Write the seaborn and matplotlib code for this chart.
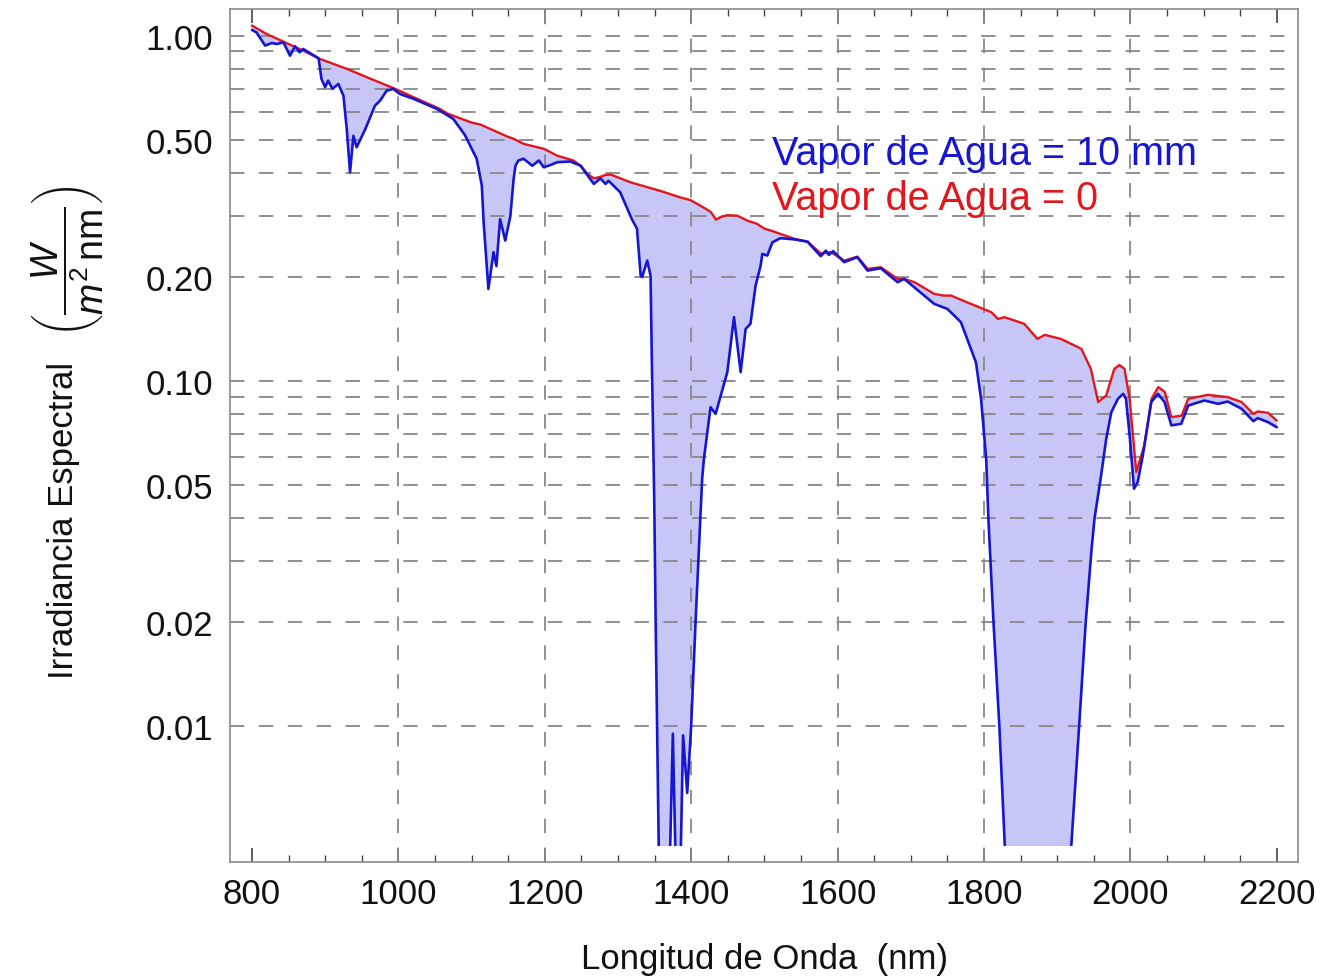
import numpy as np
import matplotlib
matplotlib.use("Agg")
import matplotlib.pyplot as plt
from matplotlib.patches import Rectangle
from matplotlib.ticker import FixedLocator, MultipleLocator, NullLocator
import seaborn as sns

# Spectral irradiance with no water vapour (wavelength in nm, W / (m^2 nm))
wl_dry = [800, 820, 843, 870, 893, 930, 957, 998, 1021, 1057, 1066, 1100, 1112,
          1148, 1158, 1171, 1199, 1217, 1239, 1249, 1258, 1267, 1276, 1283, 1290,
          1317, 1358, 1385, 1399, 1420, 1427, 1434, 1440, 1449, 1463, 1477, 1490,
          1500, 1510, 1525, 1541, 1559, 1577, 1591, 1609, 1627, 1641, 1659, 1682,
          1691, 1705, 1732, 1745, 1755, 1782, 1810, 1819, 1828, 1855, 1873, 1883,
          1905, 1933, 1946, 1956, 1967, 1978, 1985, 1992, 1999, 2008, 2019, 2029,
          2038, 2047, 2056, 2070, 2079, 2106, 2133, 2152, 2168, 2174, 2188, 2200]
irr_dry = [1.07, 1.011, 0.961, 0.905, 0.856, 0.801, 0.758, 0.698, 0.663, 0.613,
           0.596, 0.560, 0.553, 0.511, 0.502, 0.486, 0.470, 0.449, 0.435, 0.420,
           0.398, 0.386, 0.390, 0.395, 0.396, 0.376, 0.355, 0.340, 0.334, 0.315,
           0.308, 0.293, 0.298, 0.302, 0.301, 0.291, 0.285, 0.276, 0.272, 0.265,
           0.258, 0.253, 0.234, 0.236, 0.223, 0.229, 0.211, 0.2134, 0.1974, 0.1974,
           0.1931, 0.1786, 0.1766, 0.1766, 0.1671, 0.1581, 0.1512, 0.1529, 0.1463,
           0.1323, 0.1359, 0.1323, 0.1238, 0.1083, 0.0868, 0.0907, 0.1083, 0.1111,
           0.1083, 0.0887, 0.0544, 0.0650, 0.0887, 0.0959, 0.0929, 0.0785, 0.0793,
           0.0887, 0.0911, 0.0897, 0.0868, 0.0802, 0.0815, 0.0808, 0.0767]

# Spectral irradiance with 10 mm of precipitable water
wl_wet = [800, 806, 818, 827, 834, 843, 852, 859, 865, 870, 891, 895, 900, 904,
          910, 918, 925, 929.5, 934, 938.6, 943, 955, 968, 975, 984, 993, 1002,
          1021, 1053, 1075, 1091, 1107, 1114, 1116.5, 1123, 1130, 1134, 1139, 1146,
          1153, 1157.5, 1160, 1164, 1171, 1183, 1192, 1198.5, 1208, 1217, 1235,
          1249, 1267, 1276, 1283, 1287, 1303, 1319, 1326, 1331, 1333, 1340, 1344.5,
          1346.7, 1349.5, 1351.5, 1353.5, 1356, 1362, 1370.8, 1375, 1378.8, 1382,
          1385.5, 1389, 1394.6, 1400, 1406, 1415, 1417.4, 1426.5, 1433.4, 1449.4,
          1458.5, 1467.6, 1474.4, 1481, 1488, 1494.9, 1497.2, 1504, 1511, 1522,
          1540.5, 1559, 1577, 1584, 1588, 1594, 1609, 1627, 1641, 1659, 1682, 1691,
          1732, 1750, 1768.5, 1789, 1796, 1803, 1806, 1813, 1821, 1830, 1875, 1917,
          1930, 1939, 1947, 1951, 1960, 1967, 1974, 1983, 1990, 1994, 1999, 2005,
          2010, 2017, 2028.5, 2037.6, 2046.7, 2056, 2069.5, 2079, 2101, 2120, 2133,
          2152, 2168, 2174, 2188, 2200]
irr_wet = [1.039, 1.023, 0.936, 0.952, 0.946, 0.957, 0.875, 0.932, 0.895, 0.915,
           0.860, 0.749, 0.709, 0.741, 0.701, 0.725, 0.670, 0.537, 0.402, 0.513,
           0.475, 0.537, 0.627, 0.648, 0.693, 0.701, 0.678, 0.656, 0.613, 0.574,
           0.515, 0.440, 0.368, 0.288, 0.1846, 0.236, 0.215, 0.294, 0.255, 0.300,
           0.385, 0.420, 0.435, 0.440, 0.420, 0.435, 0.416, 0.422, 0.430, 0.432,
           0.420, 0.372, 0.386, 0.372, 0.380, 0.352, 0.294, 0.276, 0.2018, 0.1997,
           0.2231, 0.2018, 0.101, 0.046, 0.020, 0.010, 0.0040, 0.0010, 0.0040,
           0.0095, 0.0040, 0.0020, 0.0040, 0.0094, 0.0064, 0.010, 0.020, 0.052,
           0.0594, 0.0839, 0.0802, 0.106, 0.1529, 0.106, 0.1414, 0.1463, 0.1888,
           0.2157, 0.2332, 0.2306, 0.252, 0.259, 0.257, 0.253, 0.2297, 0.2384,
           0.2317, 0.2375, 0.2207, 0.2282, 0.2087, 0.2120, 0.1931, 0.1974, 0.1671,
           0.1616, 0.1479, 0.1132, 0.0887, 0.0594, 0.040, 0.020, 0.010, 0.0038,
           0.0015, 0.0038, 0.010, 0.020, 0.0326, 0.0399, 0.0532, 0.0679, 0.0812,
           0.0887, 0.0917, 0.0887, 0.0694, 0.0487, 0.0509, 0.0608, 0.0868, 0.0917,
           0.0868, 0.0743, 0.0751, 0.0848, 0.0877, 0.0858, 0.0871, 0.0830, 0.0764,
           0.0780, 0.0759, 0.0734]

x_ticks = [800, 1000, 1200, 1400, 1600, 1800, 2000, 2200]
y_ticks = [1.0, 0.5, 0.2, 0.1, 0.05, 0.02, 0.01]
y_tick_labels = ["1.00", "0.50", "0.20", "0.10", "0.05", "0.02", "0.01"]
h_grid = [1.0, 0.9, 0.8, 0.7, 0.6, 0.5, 0.4, 0.3, 0.2,
          0.1, 0.09, 0.08, 0.07, 0.06, 0.05, 0.04, 0.03, 0.02, 0.01]
v_grid = [1000, 1200, 1400, 1600, 1800, 2000]
series_labels = ["Vapor de Agua = 10 mm", "Vapor de Agua = 0"]
y_title = "Irradiancia Espectral"
y_units = r"$\left(\dfrac{W}{m^2\,\mathrm{nm}}\right)$"
x_title = "Longitud de Onda  (nm)"

BLUE = "#1616d2"
RED = "#e3161c"
FILL = "#c6c7f6"
GRID = "#888888"

sns.set_theme(style="white")
plt.rcParams["font.family"] = ["Liberation Sans", "DejaVu Sans"]
plt.rcParams["mathtext.fontset"] = "custom"
plt.rcParams["mathtext.rm"] = "Liberation Sans"
plt.rcParams["mathtext.it"] = "Liberation Sans:italic"
plt.rcParams["mathtext.bf"] = "Liberation Sans:bold"
for key in ("text.color", "axes.labelcolor", "xtick.color", "ytick.color"):
    plt.rcParams[key] = "#111111"

fig = plt.figure(figsize=(13.21, 9.78), dpi=100)
ax = fig.add_axes([0.1741, 0.1176, 0.8085, 0.8722])
ax.set_yscale("log")
ax.set_xlim(770, 2229)
ax.set_ylim(0.004037, 1.195)

# lower edge of the plotted range; curves and filling are cut there
floor = 0.0045
clip_rect = Rectangle((700, floor), 1700, 10, transform=ax.transData)

# shaded absorption between the two spectra
poly_x = np.r_[wl_dry, wl_wet[::-1]]
poly_y = np.r_[irr_dry, irr_wet[::-1]]
filled = ax.fill(poly_x, poly_y, color=FILL, lw=0, zorder=1)
for p in filled:
    p.set_clip_path(clip_rect)

for v in h_grid:
    ax.axhline(v, color=GRID, lw=1.3, ls=(0, (8, 8)), zorder=2)
for v in v_grid:
    ax.axvline(v, color=GRID, lw=1.3, ls=(0, (8, 8)), zorder=2)

sns.lineplot(x=wl_dry, y=irr_dry, color=RED, lw=1.7, estimator=None,
             sort=False, ax=ax, zorder=3)
sns.lineplot(x=wl_wet, y=irr_wet, color=BLUE, lw=1.9, estimator=None,
             sort=False, ax=ax, zorder=4)
for line in ax.lines[-2:]:
    line.set_clip_path(clip_rect)

# ticks
ax.xaxis.set_major_locator(FixedLocator(x_ticks))
ax.xaxis.set_minor_locator(MultipleLocator(50))
ax.tick_params(axis="x", which="major", direction="in", length=10, width=1.1,
               top=True, bottom=True, labelsize=25, pad=11, color="#333333")
ax.tick_params(axis="x", which="minor", direction="in", length=5, width=1.0,
               top=True, bottom=True, color="#444444")
ax.yaxis.set_major_locator(FixedLocator(y_ticks))
ax.yaxis.set_minor_locator(NullLocator())
ax.set_yticklabels(y_tick_labels)
ax.tick_params(axis="y", which="major", length=0, labelsize=25, pad=12)

for s in ax.spines.values():
    s.set_color("#8a8a8a")
    s.set_linewidth(1.2)

ax.set_xlabel(x_title, fontsize=25)
ax.xaxis.set_label_coords(0.5, -0.094)

# y title and its units, stacked along the left side
ax.set_ylabel(y_title, fontsize=25)
ylab = ax.yaxis.label
ylab.set_rotation_mode("default")
ylab.set_verticalalignment("center")
ylab.set_horizontalalignment("center")
ax.yaxis.set_label_coords(-0.1559, 0.402)
ax.text(-0.1515, 0.705, y_units, transform=ax.transAxes, rotation=90,
        fontsize=27, ha="center", va="center", color="#111111")

ax.text(0.5075, 0.818, series_labels[0], transform=ax.transAxes, color=BLUE,
        fontsize=28.5, ha="left", va="baseline", zorder=5)
ax.text(0.5075, 0.7655, series_labels[1], transform=ax.transAxes, color=RED,
        fontsize=28.5, ha="left", va="baseline", zorder=5)

fig.savefig("out.png", dpi=100)
